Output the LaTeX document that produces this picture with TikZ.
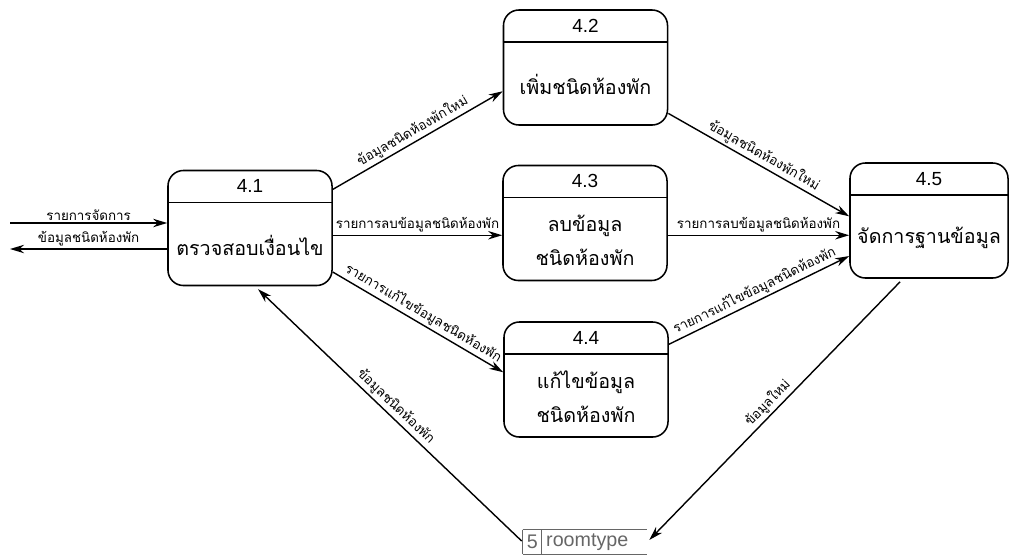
\documentclass[tikz,border=0pt]{standalone}
\usepackage{fontspec}
\setmainfont{Liberation Sans}
\newfontfamily\thaifont[Script=Thai]{Loma}
\usetikzlibrary{arrows.meta}

\begin{document}
\begin{tikzpicture}[x=0.025cm, y=-0.025cm,
    procbox/.style={draw, line width=1.1pt, rounded corners=11pt, minimum width=4.1cm, minimum height=2.875cm},
    numtext/.style={font=\fontsize{13.5}{15}\selectfont},
    proctext/.style={font=\thaifont\fontsize{14}{24}\selectfont, align=center},
    storetext/.style={font=\fontsize{14}{16}\selectfont, text=black!60, inner sep=0pt},
    flow/.style={line width=1pt, -{Stealth[length=10pt, width=6pt]}},
    lbl/.style={font=\thaifont\fontsize{9.5}{10}\selectfont, inner sep=1.5pt}]
  \useasboundingbox (0,0) rectangle (1010,559);

  % Processes
  \node[procbox] (p41) at (250,228) {};
  \node[procbox] (p42) at (585.5,67.5) {};
  \node[procbox] (p43) at (585,223) {};
  \node[procbox] (p44) at (586,379.5) {};
  \node[procbox, minimum width=3.95cm] (p45) at (929,220.5) {};

  % Header lines
  \foreach \p in {p41,p42,p43,p44,p45}
    \draw[line width=1.1pt] ([yshift=-0.825cm]\p.north west) -- ([yshift=-0.825cm]\p.north east);

  % Numbers
  \node[numtext] (n41) at ([yshift=-0.41cm]p41.north) {4.1};
  \node[numtext] (n42) at ([yshift=-0.41cm]p42.north) {4.2};
  \node[numtext] (n43) at ([yshift=-0.41cm]p43.north) {4.3};
  \node[numtext] (n44) at ([yshift=-0.41cm]p44.north) {4.4};
  \node[numtext] (n45) at ([yshift=-0.41cm]p45.north) {4.5};

  % Process names
  \node[proctext] (t41) at ([yshift=1.025cm]p41.south) {ตรวจสอบเงื่อนไข};
  \node[proctext] (t42) at ([yshift=1.025cm]p42.south) {เพิ่มชนิดห้องพัก};
  \node[proctext] (t43) at ([yshift=1.025cm]p43.south) {ลบข้อมูล\\ชนิดห้องพัก};
  \node[proctext] (t44) at ([yshift=1.025cm]p44.south) {แก้ไขข้อมูล\\ชนิดห้องพัก};
  \node[proctext] (t45) at ([yshift=1.025cm]p45.south) {จัดการฐานข้อมูล};

  % Data store
  \node[minimum width=3.1cm, minimum height=0.6cm, inner sep=0pt] (st) at (585,542) {};
  \draw[black!60, line width=0.8pt] (st.north west) -- (st.north east)
    (st.south west) -- (st.south east)
    (st.north west) -- (st.south west)
    ([xshift=0.475cm]st.north west) -- ([xshift=0.475cm]st.south west);
  \node[storetext] (s5) at ([xshift=0.24cm]st.west) {5};
  \node[storetext, anchor=west] (srt) at ([xshift=0.58cm]st.west) {roomtype};

  % Flows
  \coordinate (ext_in) at (10,223);
  \coordinate (ext_out) at (10,249);
  \draw[flow] (ext_in) -- node[lbl, above] {รายการจัดการ} (p41.west |- ext_in);
  \draw[flow] (p41.west |- ext_out) -- node[lbl, above] {ข้อมูลชนิดห้องพัก} (ext_out);

  \draw[flow] (p41.25) -- node[lbl, above, sloped] {ข้อมูลชนิดห้องพักใหม่} (p42.196);
  \draw[flow] (p42.-29) -- node[lbl, above, sloped] {ข้อมูลชนิดห้องพักใหม่} (p45.177);
  \draw[flow] (p41.-5) -- node[lbl, above] {รายการลบข้อมูลชนิดห้องพัก} (p43.west |- p41.-5);
  \draw[flow] (p43.east |- p41.-5) -- node[lbl, above] {รายการลบข้อมูลชนิดห้องพัก} (p45.west |- p41.-5);
  \draw[flow] (p41.-28) -- node[lbl, above, sloped] {รายการแก้ไขข้อมูลชนิดห้องพัก} (p44.175);
  \draw[flow] (p44.23) -- node[lbl, above, sloped] {รายการแก้ไขข้อมูลชนิดห้องพัก} (p45.204);

  \draw[flow, shorten <=3pt, shorten >=2pt] ([xshift=-0.65cm]p45.south) -- node[lbl, above, sloped] {ข้อมูลใหม่} (st.east);
  \draw[flow, shorten <=1pt, shorten >=3pt] (st.west) -- node[lbl, above, sloped] {ข้อมูลชนิดห้องพัก} ([xshift=0.125cm]p41.south);
\end{tikzpicture}
\end{document}
